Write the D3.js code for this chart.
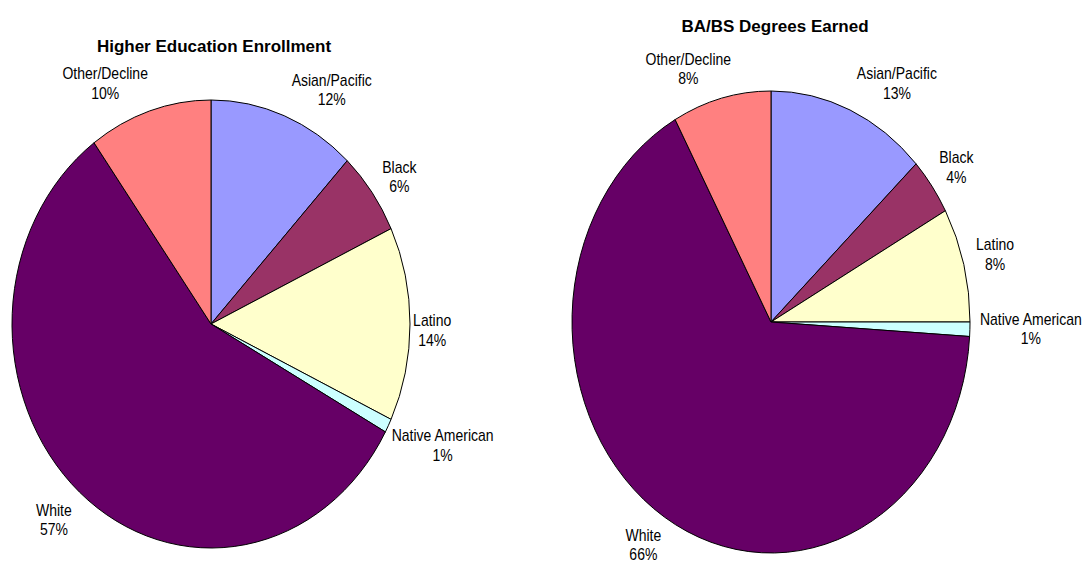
<!DOCTYPE html>
<html>
<head>
<meta charset="utf-8">
<script src="https://cdn.jsdelivr.net/npm/d3@7"></script>
<style>
  body { margin: 0; background: #fff; }
  svg { display: block; font-family: "Liberation Sans", Arial, sans-serif; }
</style>
</head>
<body>
<div id="chart"></div>
<script>
const categories = ['Asian/Pacific', 'Black', 'Latino', 'Native American', 'White', 'Other/Decline'];
const enrollment = [12, 6, 14, 1, 57, 10];
const degrees = [13, 4, 8, 1, 66, 8];
const titles = ['Higher Education Enrollment', 'BA/BS Degrees Earned'];

const colors = ['#9999ff', '#993366', '#ffffcc', '#ccffff', '#660066', '#ff8080'];

const width = 1086;
const height = 566;

// layout of the two pies (the source picture is stretched vertically)
// nudge: small label offsets, like the hand-placed labels of the original
const charts = [
  { title: titles[0], values: enrollment, cx: 211, cy: 324, rx: 199, ry: 224, titleX: 214, titleY: 52,
    nudge: [[29, 0], [5, 1], [-7, 7], [0, 8], [-7, 8], [-28, -1]] },
  { title: titles[1], values: degrees, cx: 771, cy: 322, rx: 199, ry: 231, titleX: 775, titleY: 32,
    nudge: [[27, -1], [2, -2], [3, -3], [0, -1], [-6, 5], [-20, -2]] }
];

const svg = d3.select('#chart')
  .append('svg')
  .attr('width', width)
  .attr('height', height);

const pie = d3.pie().sort(null).value(d => d);

charts.forEach(c => {
  const k = c.ry / c.rx;
  const arc = d3.arc().innerRadius(0).outerRadius(c.rx);
  const slices = pie(c.values);

  svg.append('text')
    .attr('x', c.titleX)
    .attr('y', c.titleY)
    .attr('text-anchor', 'middle')
    .attr('font-size', '17px')
    .attr('font-weight', 'bold')
    .text(c.title);

  svg.append('g')
    .attr('transform', `translate(${c.cx},${c.cy}) scale(1,${k})`)
    .selectAll('path')
    .data(slices)
    .join('path')
      .attr('d', arc)
      .attr('fill', (d, i) => colors[i])
      .attr('stroke', '#000')
      .attr('stroke-width', 1)
      .attr('vector-effect', 'non-scaling-stroke');

  const gap = 10;
  const labels = svg.append('g')
    .attr('font-size', '14px')
    .attr('fill', '#000')
    .selectAll('text')
    .data(slices)
    .join('text')
      .attr('text-anchor', 'middle');

  labels.append('tspan').attr('x', 0).attr('y', -4).text((d, i) => categories[i]);
  labels.append('tspan').attr('x', 0).attr('y', 13).text(d => d.value + '%');

  labels.attr('transform', function(d, i) {
    const a = (d.startAngle + d.endAngle) / 2;
    const b = this.getBBox();
    const ax = c.cx + (c.rx + gap) * Math.sin(a);
    const ay = c.cy - (c.rx + gap) * k * Math.cos(a);
    const x = ax + Math.sin(a) * b.width / 2 + c.nudge[i][0];
    const y = ay - Math.cos(a) * 16 + c.nudge[i][1];
    return `translate(${x},${y}) scale(1,1.15)`;
  });
});
</script>
</body>
</html>
